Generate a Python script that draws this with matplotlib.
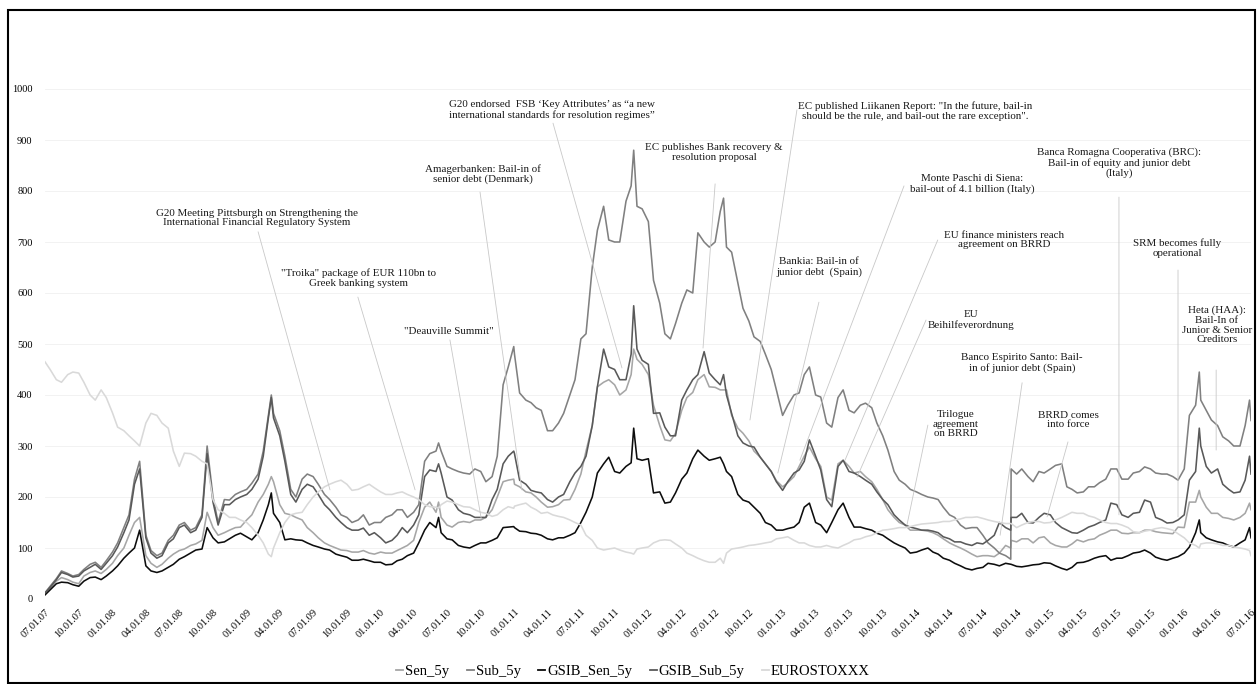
import matplotlib
matplotlib.use("Agg")
import matplotlib.pyplot as plt
import matplotlib.dates as mdates
from matplotlib.patches import Rectangle
from matplotlib.lines import Line2D
import pandas as pd

# ---------------- data ----------------
# values on the 1st of each month, on the 15th of each month, and on a few extra dates
months = pd.date_range("2007-07-01", "2016-07-01", freq="MS")
mid_months = months[:-1] + pd.Timedelta(days=14)
extra_dates = pd.to_datetime([
    "2009-03-09", "2010-06-08", "2010-12-30", "2011-11-22",
    "2012-07-24", "2014-09-16", "2016-02-11", "2016-06-27"])

sen_5y = [10, 35, 38, 30, 52, 50, 70, 100, 150, 85,
          62, 80, 95, 105, 115, 140, 130, 140, 155, 190,
          225, 185, 165, 155, 130, 110, 100, 95, 92, 90,
          92, 90, 100, 115, 180, 170, 145, 150, 150, 155,
          175, 230, 225, 210, 200, 180, 185, 195, 245, 340,
          425, 420, 410, 470, 440, 340, 310, 370, 405, 440,
          415, 410, 335, 310, 278, 250, 220, 240, 280, 275,
          200, 265, 260, 250, 230, 195, 160, 145, 135, 133,
          125, 110, 100, 88, 85, 83, 105, 112, 118, 120,
          110, 102, 108, 112, 118, 130, 135, 128, 130, 135,
          130, 128, 140, 190, 180, 168, 158, 160, 175]
sen_5y_mid = [20, 42, 33, 45, 55, 58, 85, 125, 160, 70,
              68, 88, 98, 108, 170, 125, 135, 141, 165, 205,
              230, 168, 160, 140, 120, 105, 96, 92, 95, 88,
              90, 95, 105, 150, 190, 160, 141, 152, 155, 160,
              200, 233, 220, 208, 190, 181, 194, 215, 290, 416,
              430, 400, 440, 460, 380, 312, 325, 395, 430, 416,
              410, 360, 325, 290, 265, 232, 228, 260, 298, 260,
              194, 272, 247, 240, 215, 175, 150, 135, 135, 130,
              118, 105, 95, 83, 85, 90, 100, 118, 110, 122,
              105, 102, 116, 116, 125, 135, 129, 130, 135, 132,
              129, 141, 190, 200, 168, 160, 155, 168]
sen_5y_extra = [240, 190, 235, 490, 410, 115, 213, 188]

sub_5y = [12, 40, 50, 48, 68, 62, 92, 140, 235, 125,
          85, 115, 145, 135, 165, 200, 195, 205, 215, 245,
          360, 330, 215, 235, 240, 205, 180, 160, 155, 145,
          150, 165, 175, 170, 270, 290, 260, 250, 245, 250,
          240, 420, 480, 390, 375, 330, 345, 400, 510, 650,
          770, 700, 780, 770, 740, 580, 510, 580, 600, 700,
          700, 690, 620, 545, 505, 450, 360, 400, 440, 400,
          345, 395, 370, 380, 375, 320, 250, 225, 210, 200,
          195, 165, 145, 140, 125, 100, 85, 245, 240, 250,
          255, 265, 215, 210, 220, 235, 255, 235, 250, 255,
          245, 240, 255, 380, 370, 340, 310, 300, 350]
sub_5y_mid = [25, 55, 45, 58, 72, 75, 110, 165, 270, 95,
              90, 125, 150, 140, 300, 150, 194, 210, 227, 290,
              364, 280, 200, 245, 225, 195, 165, 150, 165, 150,
              160, 175, 160, 185, 285, 290, 255, 247, 255, 230,
              280, 455, 404, 385, 370, 330, 364, 430, 520, 723,
              704, 700, 810, 765, 625, 520, 540, 606, 718, 690,
              760, 680, 570, 514, 480, 410, 380, 404, 455, 396,
              337, 410, 365, 384, 345, 292, 233, 215, 205, 198,
              180, 160, 138, 140, 110, 90, 78, 255, 230, 247,
              262, 220, 208, 220, 228, 255, 235, 247, 259, 247,
              245, 233, 360, 390, 351, 318, 300, 340]
sub_5y_extra = [400, 306, 495, 880, 786, 255, 445, 390]

gsib_sen_5y = [8, 30, 32, 25, 42, 38, 55, 80, 100, 65,
               52, 62, 78, 90, 98, 120, 112, 125, 122, 130,
               185, 150, 118, 115, 105, 98, 88, 82, 76, 75,
               72, 68, 78, 90, 135, 140, 118, 105, 100, 110,
               115, 140, 140, 132, 128, 118, 120, 125, 150, 200,
               265, 250, 260, 275, 275, 210, 190, 235, 275, 280,
               275, 250, 205, 190, 168, 145, 135, 141, 180, 150,
               130, 175, 160, 141, 135, 125, 110, 100, 92, 100,
               88, 76, 65, 57, 62, 68, 70, 64, 65, 68,
               70, 60, 62, 72, 80, 85, 80, 85, 92, 90,
               78, 80, 90, 130, 120, 112, 105, 110, 120]
gsib_sen_5y_mid = [18, 33, 28, 35, 43, 45, 65, 90, 135, 55,
                   55, 68, 83, 96, 140, 110, 118, 129, 116, 155,
                   168, 116, 116, 110, 102, 96, 85, 76, 78, 72,
                   67, 75, 85, 110, 150, 130, 116, 102, 105, 110,
                   120, 141, 133, 129, 125, 116, 120, 130, 170, 247,
                   278, 247, 267, 272, 208, 188, 208, 247, 292, 272,
                   278, 240, 194, 180, 150, 135, 138, 150, 188, 145,
                   150, 188, 141, 138, 129, 118, 105, 90, 96, 92,
                   80, 70, 60, 60, 70, 65, 68, 63, 67, 71,
                   65, 57, 71, 75, 83, 76, 80, 90, 96, 82,
                   76, 83, 102, 130, 116, 110, 102, 116]
gsib_sen_5y_extra = [208, 160, 142, 335, 265, 68, 155, 140]

gsib_sub_5y = [12, 38, 48, 45, 62, 58, 85, 130, 225, 120,
               80, 110, 140, 130, 160, 190, 185, 195, 205, 235,
               355, 320, 205, 215, 220, 185, 160, 140, 135, 125,
               120, 115, 140, 145, 240, 250, 200, 175, 165, 160,
               195, 265, 285, 225, 210, 195, 200, 230, 260, 340,
               490, 450, 430, 490, 460, 365, 320, 390, 430, 485,
               430, 400, 320, 300, 278, 250, 213, 247, 270, 280,
               195, 260, 250, 240, 225, 195, 165, 145, 138, 135,
               130, 118, 112, 105, 108, 125, 140, 160, 150, 160,
               165, 140, 130, 135, 145, 155, 185, 160, 170, 190,
               155, 150, 165, 250, 260, 255, 215, 210, 245]
gsib_sub_5y_mid = [23, 52, 43, 55, 68, 70, 102, 155, 255, 90,
                   85, 118, 145, 135, 285, 145, 185, 200, 215, 280,
                   355, 270, 190, 225, 205, 175, 150, 135, 139, 130,
                   110, 125, 130, 165, 253, 247, 194, 168, 160, 160,
                   215, 280, 233, 213, 208, 190, 205, 247, 280, 416,
                   455, 430, 480, 468, 364, 337, 320, 410, 440, 443,
                   420, 364, 306, 298, 265, 230, 230, 253, 312, 253,
                   181, 272, 247, 233, 210, 185, 155, 141, 135, 133,
                   122, 112, 108, 110, 115, 150, 135, 168, 149, 168,
                   150, 135, 129, 141, 150, 188, 165, 168, 194, 160,
                   149, 155, 233, 300, 247, 225, 208, 233]
gsib_sub_5y_extra = [395, 265, 290, 575, 440, 160, 335, 280]

eurostoxxx = [465, 430, 440, 443, 400, 410, 365, 330, 310, 345,
              360, 335, 260, 285, 270, 195, 168, 160, 150, 125,
              88, 130, 165, 170, 200, 220, 230, 225, 215, 225,
              210, 205, 210, 200, 185, 180, 192, 185, 180, 170,
              162, 175, 182, 188, 175, 170, 162, 155, 145, 115,
              96, 100, 92, 98, 102, 115, 115, 100, 85, 75,
              72, 90, 100, 105, 108, 112, 120, 115, 110, 102,
              105, 100, 110, 118, 125, 135, 138, 140, 145, 148,
              150, 152, 157, 160, 158, 152, 148, 140, 150, 152,
              150, 160, 170, 168, 160, 150, 148, 140, 130, 135,
              140, 135, 120, 105, 110, 108, 105, 100, 85]
eurostoxxx_mid = [450, 425, 445, 425, 390, 395, 337, 320, 300, 364,
                  345, 290, 286, 280, 265, 175, 160, 155, 140, 110,
                  100, 150, 168, 185, 210, 225, 233, 213, 220, 218,
                  205, 208, 205, 195, 181, 185, 190, 181, 175, 168,
                  165, 181, 185, 180, 168, 165, 160, 150, 125, 100,
                  98, 96, 90, 100, 110, 116, 108, 90, 80, 72,
                  80, 98, 102, 106, 110, 118, 122, 110, 105, 102,
                  102, 105, 116, 122, 130, 136, 140, 142, 147, 149,
                  152, 155, 160, 161, 155, 150, 148, 145, 152, 149,
                  155, 165, 168, 163, 155, 148, 145, 132, 133, 138,
                  138, 128, 110, 108, 110, 105, 102, 98]
eurostoxxx_extra = [83, 178, 178, 88, 70, 148, 100, 95]

series_names = ["Sen_5y", "Sub_5y", "GSIB_Sen_5y", "GSIB_Sub_5y", "EUROSTOXXX"]
series_colors = ["#a6a6a6", "#808080", "#0d0d0d", "#595959", "#d9d9d9"]

y_ticks = list(range(0, 1001, 100))
x_ticks = pd.date_range("2007-07-01", "2016-07-01", freq="QS")

annotations = [
    ("G20 Meeting Pittsburgh on Strengthening the\nInternational Financial Regulatory System",
     "2009-01-29", 747, "2009-02-01", 720, "2009-08-16", 214),
    ("\"Troika\" package of EUR 110bn to\nGreek banking system",
     "2009-11-03", 629, "2009-10-31", 592, "2010-04-05", 214),
    ("\"Deauville Summit\"",
     "2010-07-06", 524, "2010-07-09", 508, "2010-10-02", 159),
    ("Amagerbanken: Bail-in of\nsenior debt (Denmark)",
     "2010-10-07", 833, "2010-09-29", 798, "2011-01-21", 214),
    ("G20 endorsed  FSB \u2018Key Attributes\u2019 as \u201ca new\ninternational standards for resolution regimes\u201d",
     "2011-04-13", 959, "2011-04-16", 933, "2011-10-21", 453),
    ("EC publishes Bank recovery &\nresolution proposal",
     "2012-06-28", 875, "2012-07-01", 814, "2012-05-29", 492),
    ("EC published Liikanen Report: \"In the future, bail-in\nshould be the rule, and bail-out the rare exception\".",
     "2013-12-28", 957, "2013-02-09", 959, "2012-10-04", 351),
    ("Bankia: Bail-in of\njunior debt  (Spain)",
     "2013-04-10", 651, "2013-04-10", 582, "2012-12-19", 247),
    ("Monte Paschi di Siena:\nbail-out of 4.1 billion (Italy)",
     "2014-06-01", 814, "2013-11-28", 810, "2013-02-17", 272),
    ("EU finance ministers reach\nagreement on BRRD",
     "2014-08-28", 704, "2014-02-28", 704, "2013-06-20", 272),
    ("EU\nBeihilfeverordnung",
     "2014-05-30", 547, "2014-01-27", 547, "2013-07-23", 239),
    ("Banco Espirito Santo: Bail-\nin of junior debt (Spain)",
     "2014-10-16", 463, "2014-10-16", 424, "2014-08-17", 125),
    ("Trilogue\nagreement\non BRRD",
     "2014-04-19", 343, "2014-02-01", 341, "2013-12-06", 145),
    ("BRRD comes\ninto force",
     "2015-02-18", 351, "2015-02-18", 308, "2014-12-23", 161),
    ("Banca Romagna Cooperativa (BRC):\nBail-in of equity and junior debt\n(Italy)",
     "2015-07-07", 855, "2015-07-07", 788, "2015-07-07", 165),
    ("SRM becomes fully\noperational",
     "2015-12-12", 688, "2015-12-15", 645, "2015-12-15", 161),
    ("Heta (HAA):\nBail-In of\nJunior & Senior\nCreditors",
     "2016-03-30", 537, "2016-03-28", 449, "2016-03-28", 292),
]

# ---------------- figure ----------------
W, H = 1257, 684
fig = plt.figure(figsize=(W / 100, H / 100), dpi=100)
ax = fig.add_axes([45 / W, 85 / H, (1251 - 45) / W, 510 / H])

serif = "Liberation Serif"
all_dates = months.append(mid_months).append(extra_dates)
values = [sen_5y + sen_5y_mid + sen_5y_extra,
          sub_5y + sub_5y_mid + sub_5y_extra,
          gsib_sen_5y + gsib_sen_5y_mid + gsib_sen_5y_extra,
          gsib_sub_5y + gsib_sub_5y_mid + gsib_sub_5y_extra,
          eurostoxxx + eurostoxxx_mid + eurostoxxx_extra]

for name, vals, col in zip(series_names, values, series_colors):
    s = pd.Series(vals, index=all_dates).sort_index()
    ax.plot(s.index, s.values, color=col, lw=1.15, label=name, solid_joinstyle="round")

ax.set_xlim(pd.Timestamp("2007-07-01"), pd.Timestamp("2016-07-01"))
ax.set_ylim(0, 1000)
ax.set_yticks(y_ticks)
ax.set_xticks(x_ticks)
ax.xaxis.set_major_formatter(mdates.DateFormatter("%m.%d.%y"))
ax.grid(axis="y", color="#f0f0f0", lw=0.6)
ax.set_axisbelow(True)
for sp in ax.spines.values():
    sp.set_visible(False)
ax.tick_params(axis="both", length=0)
ax.tick_params(axis="y", pad=9)
ax.tick_params(axis="x", pad=6)
for lab in ax.get_yticklabels():
    lab.set_fontfamily(serif)
    lab.set_fontsize(7.5)
for lab in ax.get_xticklabels():
    lab.set_fontfamily(serif)
    lab.set_fontsize(7.5)
    lab.set_rotation(45)
    lab.set_ha("right")
    lab.set_rotation_mode("anchor")

for text, tx, ty, sx, sy, ex, ey in annotations:
    ax.annotate("", xy=(pd.Timestamp(ex), ey), xytext=(pd.Timestamp(sx), sy),
                arrowprops=dict(arrowstyle="-", color="#c8c8c8", lw=0.6,
                                shrinkA=0, shrinkB=0))
    ax.text(pd.Timestamp(tx), ty, text, ha="center", va="center", ma="center",
            fontsize=7.9, family=serif, linespacing=1.1, color="#1a1a1a")

handles = [Line2D([0], [0], color=c, lw=1.3) for c in series_colors]
fig.legend(handles, series_names, loc="center", bbox_to_anchor=(633 / W, 1 - 671 / H),
           ncol=5, frameon=False, handlelength=0.5, handletextpad=0.12,
           columnspacing=1.2, prop={"family": serif, "size": 10.5})

fig.add_artist(Rectangle((8 / W, 1 / H), (1255 - 8) / W, (674 - 1) / H,
                         transform=fig.transFigure, fill=False, ec="black", lw=1.5))

fig.savefig("out.png", dpi=100)
